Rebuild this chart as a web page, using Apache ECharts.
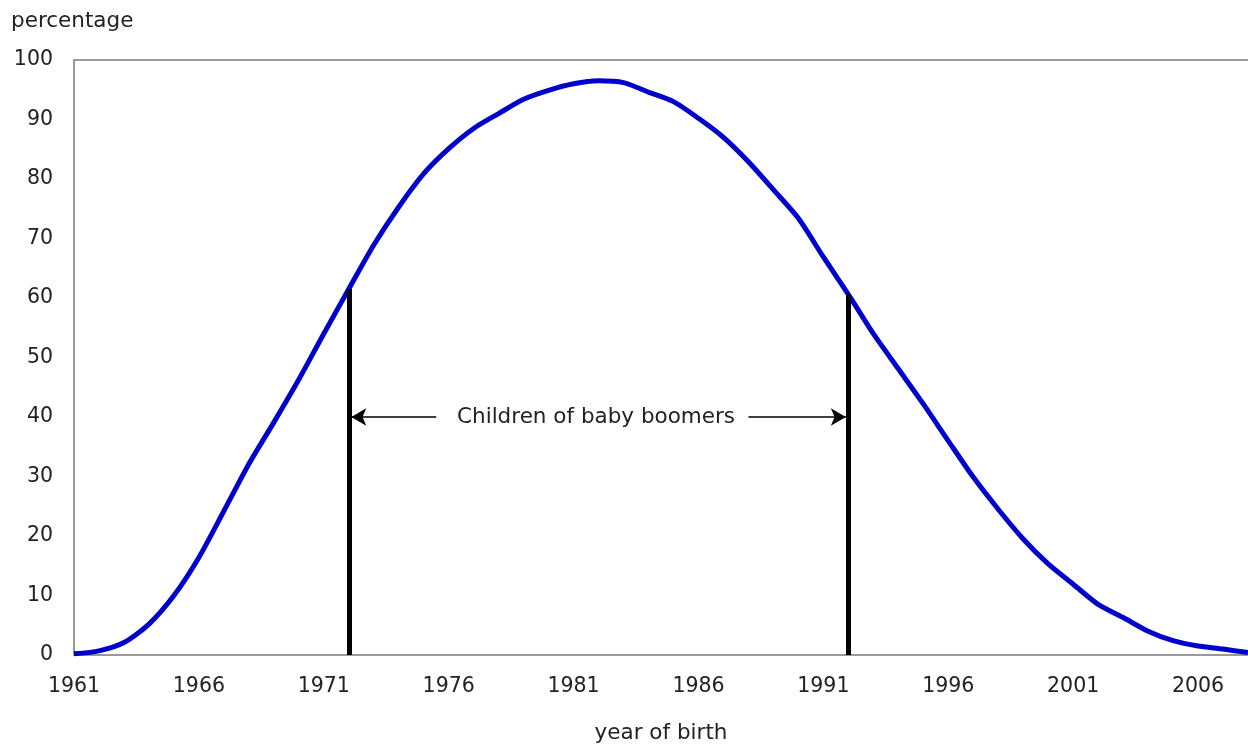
<!DOCTYPE html>
<html>
<head>
<meta charset="utf-8">
<script src="https://cdn.jsdelivr.net/npm/echarts@6/dist/echarts.min.js"></script>
<style>
  html, body { margin: 0; padding: 0; background: #fff; }
  #chart { width: 1248px; height: 745px; }
</style>
</head>
<body>
<div id="chart"></div>
<script>
// ---- data ----
const years = [1961,1962,1963,1964,1965,1966,1967,1968,1969,1970,
               1971,1972,1973,1974,1975,1976,1977,1978,1979,1980,
               1981,1982,1983,1984,1985,1986,1987,1988,1989,1990,
               1991,1992,1993,1994,1995,1996,1997,1998,1999,2000,
               2001,2002,2003,2004,2005,2006,2007,2008];
const pct = [0.2,0.7,2.1,5.2,10.0,16.4,24.2,32.1,39.1,46.3,
             54.0,61.5,68.9,75.3,80.9,85.1,88.5,91.0,93.4,94.9,
             96.0,96.5,96.2,94.6,93.0,90.2,87.0,82.9,78.2,73.4,
             66.9,60.6,54.0,48.1,42.2,36.0,29.9,24.5,19.5,15.3,
             11.9,8.5,6.3,4.0,2.4,1.5,1.0,0.4];
const boomerStart = 1972;
const boomerEnd = 1992;
const arrowLevel = 40;
const annotationText = 'Children of baby boomers';
const leftArrow = [1972.1, 1975.5];
const rightArrow = [1988.0, 1991.9];
const textCenterYear = 1981.9;
const yAxisTitle = 'percentage';
const xAxisTitle = 'year of birth';

const FONT = 'DejaVu Sans, Verdana, sans-serif';
const seriesData = years.map((y, i) => [y, pct[i]]);
const valAt = (yr) => pct[years.indexOf(yr)];

const chart = echarts.init(document.getElementById('chart'));
chart.setOption({
  animation: false,
  backgroundColor: '#fff',
  title: {
    text: yAxisTitle, left: 6, top: 5,
    textStyle: { fontFamily: FONT, fontSize: 21.5, fontWeight: 'normal', color: '#222' }
  },
  grid: { left: 74, right: 0, top: 60, bottom: 90, containLabel: false, outerBoundsMode: 'none' },
  xAxis: [{
    type: 'value', min: 1961, max: 2008, interval: 5,
    name: xAxisTitle, nameLocation: 'middle', nameGap: 67,
    nameTextStyle: { fontFamily: FONT, fontSize: 21.5, color: '#222' },
    axisLine: { show: true, lineStyle: { color: '#999', width: 2 } },
    axisTick: { show: false },
    splitLine: { show: false },
    axisLabel: { fontFamily: FONT, fontSize: 20.5, color: '#222', margin: 21,
                 showMaxLabel: false, formatter: v => (v === 2008 ? '' : String(v)) }
  }, {
    type: 'value', min: 1961, max: 2008, position: 'top',
    axisLine: { show: true, lineStyle: { color: '#999', width: 2 } },
    axisTick: { show: false }, axisLabel: { show: false }, splitLine: { show: false }
  }],
  yAxis: {
    type: 'value', min: 0, max: 100, interval: 10,
    axisLine: { show: true, lineStyle: { color: '#999', width: 2 } },
    axisTick: { show: false },
    splitLine: { show: false },
    axisLabel: { fontFamily: FONT, fontSize: 20.5, color: '#222', margin: 21,
                 padding: [6, 0, 0, 0] }
  },
  series: [{
    type: 'line',
    data: seriesData,
    showSymbol: false,
    smooth: 0.25,
    lineStyle: { color: '#0000cc', width: 5 },
    z: 3,
    markLine: {
      silent: true,
      animation: false,
      label: { show: false },
      data: [
        [{ coord: [boomerStart, 0], symbol: 'none' }, { coord: [boomerStart, valAt(boomerStart)], symbol: 'none' }],
        [{ coord: [boomerEnd, 0], symbol: 'none' }, { coord: [boomerEnd, valAt(boomerEnd)], symbol: 'none' }]
      ],
      lineStyle: { color: '#000', width: 5, type: 'solid' }
    },
    markPoint: {
      silent: true,
      data: [{
        coord: [textCenterYear, arrowLevel], symbol: 'circle', symbolSize: 0,
        label: { show: true, position: 'inside', formatter: annotationText,
                 fontFamily: FONT, fontSize: 21.5, color: '#222' }
      }]
    }
  }, {
    type: 'line',
    data: [],
    markLine: {
      silent: true,
      animation: false,
      label: { show: false },
      symbolSize: [13, 15],
      lineStyle: { color: '#000', width: 1.5, type: 'solid' },
      data: [
        [{ coord: [leftArrow[0], arrowLevel], symbol: 'arrow' }, { coord: [leftArrow[1], arrowLevel], symbol: 'none' }],
        [{ coord: [rightArrow[0], arrowLevel], symbol: 'none' }, { coord: [rightArrow[1], arrowLevel], symbol: 'arrow' }]
      ]
    }
  }]
});
</script>
</body>
</html>
